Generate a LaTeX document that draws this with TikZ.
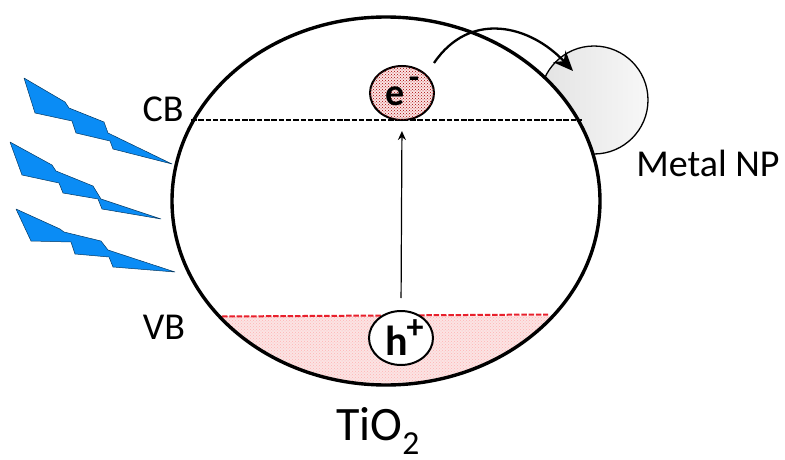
\documentclass[tikz,border=0pt]{standalone}
\usepackage{fontspec}
\setmainfont{Carlito}
\usetikzlibrary{patterns,arrows.meta,shadings,shapes.geometric}
\definecolor{boltblue}{HTML}{0A8CF5}
\definecolor{pinkfill}{HTML}{FBE4E4}
\definecolor{redline}{HTML}{E8202C}
\tikzset{
  bolt/.style={fill=boltblue,draw=black!60!boltblue,line width=0.5pt,line join=round},
  lab/.style={font=\fontsize{38}{40}\selectfont,inner sep=0pt},
  carrier/.style={ellipse,draw=black,line width=2pt,minimum width=64pt,minimum height=54pt,inner sep=0pt},
  level/.style={dash pattern=on 5.5pt off 1.8pt,line width=2pt},
}
\begin{document}
\begin{tikzpicture}[x=1pt,y=-1pt]
\useasboundingbox (0,0) rectangle (785,460);
% metal nanoparticle
\shade[left color=black!11,right color=black!3,draw=black,line width=1.3pt] (594,100) circle [radius=54];
% TiO2 grain
\node[ellipse,fill=white,draw=none,minimum width=428pt,minimum height=368pt,inner sep=0pt] (grainbg) at (386,201) {};
% valence band
\begin{scope}
\clip (386,201) ellipse [x radius=214,y radius=184];
\fill[pinkfill] (150,316) rectangle (620,400);
\fill[pattern=crosshatch dots,pattern color=red!30] (150,316) rectangle (620,400);
\end{scope}
\draw[level,redline] (222,316.5) -- (548,314.5);
\draw[level,black] (191,119.5) -- (582,119.5);
\node[ellipse,draw=black,line width=3.4pt,minimum width=428pt,minimum height=368pt,inner sep=0pt] (grain) at (386,201) {};
% carriers
\node[carrier,fill=pinkfill,postaction={pattern=crosshatch dots,pattern color=red!65!black}] (edot) at (402,93) {};
\node[font=\bfseries\fontsize{38}{40}\selectfont,inner sep=0pt] (elab) at (395,96) {e};
\node[font=\bfseries\fontsize{34}{34}\selectfont,inner sep=0pt] (eminus) at (414,83) {-};
\node[carrier,fill=white] (hole) at (401,338) {};
\node[font=\bfseries\fontsize{42}{44}\selectfont,inner sep=0pt] (hlab) at (397,341) {h};
\node[font=\bfseries\fontsize{34}{36}\selectfont,inner sep=0pt] (hplus) at (415,329) {+};
\draw[-{Stealth[length=9pt,width=8pt]},line width=1.2pt,shorten <=12pt,shorten >=10pt] (hole.north) -- (edot.south);
% transfer arrow
\coordinate (tstart) at (434,63);
\coordinate (tend) at (573,71);
\draw[-{Stealth[length=20pt,width=17pt]},line width=2.3pt] (tstart) .. controls (470,10) and (530,25) .. (tend);
% bolts
\draw[bolt] (24,78) -- (65,102) -- (69,108) -- (104,122) -- (108,133) -- (172,164) -- (113,149) -- (110,141) -- (76,133) -- (72,121) -- (35,113) -- cycle;
\draw[bolt] (10,142) -- (52,165) -- (56,171) -- (93,186) -- (101,199) -- (161,219) -- (102,209) -- (98,199) -- (63,193) -- (59,183) -- (22,175) -- cycle;
\draw[bolt] (16,209) -- (60,229) -- (64,232) -- (101,241) -- (108,250) -- (175,272) -- (113,267) -- (109,257) -- (75,254) -- (71,242) -- (31,241) -- cycle;
% labels
\node[lab] (cb) at (163,109) {CB};
\node[lab] (vb) at (164,327) {VB};
\node[lab] (metal) at (708,163) {Metal NP};
\node[inner sep=0pt,font=\fontsize{48}{50}\selectfont] (tio) at (378,431) {TiO\textsubscript{2}};
\end{tikzpicture}
\end{document}
